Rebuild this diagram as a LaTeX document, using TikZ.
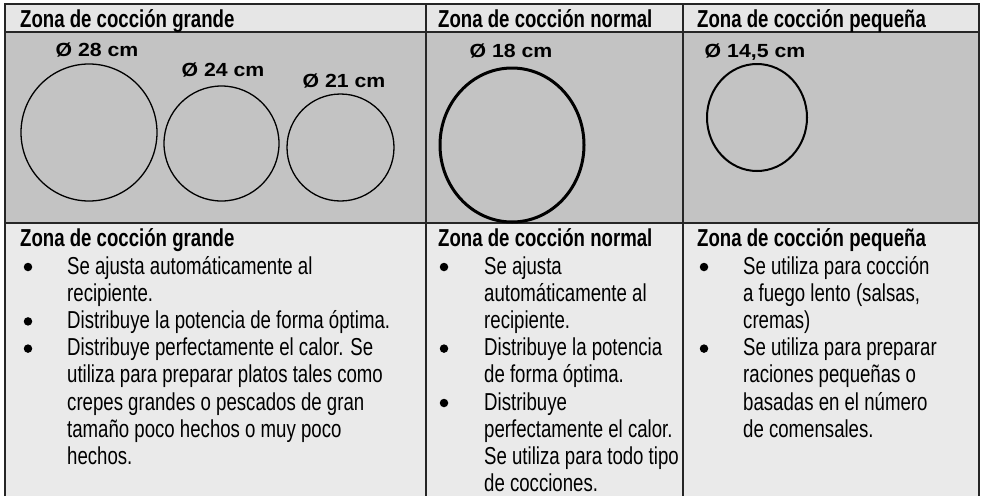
\documentclass[tikz,border=0pt]{standalone}
\usepackage{fontspec}
\setmainfont[FakeStretch=0.76]{Liberation Sans}
\newfontfamily\dimfont[FakeStretch=1.12]{Liberation Sans}
\usetikzlibrary{shapes.geometric}
\definecolor{headgray}{HTML}{E6E6E6}
\definecolor{plategray}{HTML}{C3C3C3}
\definecolor{bodygray}{HTML}{EAEAEA}
\tikzstyle{rule} = [line width=1.6pt, black!85]
\tikzstyle{zone} = [font=\bfseries\fontsize{24.5}{27.2}\selectfont, anchor=base west, inner sep=0pt]
\tikzstyle{bodyline} = [font=\fontsize{24.5}{27.2}\selectfont, anchor=base west, inner sep=0pt]
\tikzstyle{bulletmark} = [circle, fill=black, inner sep=0pt, minimum size=8.5pt]
\tikzstyle{plate} = [ellipse, draw, inner sep=0pt]
\tikzstyle{diam} = [font=\dimfont\bfseries\fontsize{19}{21}\selectfont, anchor=base, inner sep=0pt]

\begin{document}
\begin{tikzpicture}[x=1pt, y=-1pt]

        \useasboundingbox (0,0) rectangle (982,496);
        \fill[headgray] (5,4) rectangle (979,32);
        \fill[plategray] (5,32) rectangle (979,223);
        \fill[bodygray] (5,223) rectangle (979,496);

        \draw[rule] (5,496) -- (5,4) -- (979,4) -- (979,496);
        \draw[rule] (5,32) -- (979,32);
        \draw[rule] (5,223) -- (979,223);
        \draw[rule] (426,4) -- (426,496);
        \draw[rule] (683,4) -- (683,496);

        \foreach \x/\name/\txt in {20/grande/grande, 438/normal/normal, 697/peque/pequeña} {
            \node[zone] (top\name) at (\x,27) {Zona de cocción \txt};
            \node[zone] (sub\name) at (\x,246) {Zona de cocción \txt};
        }

        \node[plate, line width=1.3pt, minimum width=136pt, minimum height=137pt] (p28) at (89,132.5) {};
        \node[plate, line width=1.3pt, minimum width=115pt, minimum height=115pt] (p24) at (221.5,143.5) {};
        \node[plate, line width=1.3pt, minimum width=107pt, minimum height=107pt] (p21) at (340.5,147.5) {};
        \node[plate, line width=3pt, minimum width=144pt, minimum height=154pt] (p18) at (512,145) {};
        \node[plate, line width=2pt, minimum width=100pt, minimum height=107pt] (p14) at (757,117.5) {};

        \node[diam] (d28) at (97,56) {Ø 28 cm};
        \node[diam] (d24) at (223,76) {Ø 24 cm};
        \node[diam] (d21) at (344,87) {Ø 21 cm};
        \node[diam] (d18) at (511,57) {Ø 18 cm};
        \node[diam] (d14) at (755,57) {Ø 14,5 cm};

        \foreach \b/\txt [count=\i] in {1/Se ajusta automáticamente al, 0/recipiente., 1/Distribuye la potencia de forma óptima., 1/Distribuye perfectamente el calor. Se, 0/utiliza para preparar platos tales como, 0/crepes grandes o pescados de gran, 0/tamaño poco hechos o muy poco, 0/hechos.} {
            \node[bodyline] (g\i) at (67,{274+27.2*(\i-1)}) {\txt};
            \ifnum\b=1 \node[bulletmark] (gb\i) at (28,{267+27.2*(\i-1)}) {}; \fi
        }

        \foreach \b/\txt [count=\i] in {1/Se ajusta, 0/automáticamente al, 0/recipiente., 1/Distribuye la potencia, 0/de forma óptima., 1/Distribuye, 0/perfectamente el calor., 0/Se utiliza para todo tipo, 0/de cocciones.} {
            \node[bodyline] (n\i) at (484,{274+27.2*(\i-1)}) {\txt};
            \ifnum\b=1 \node[bulletmark] (nb\i) at (444,{267+27.2*(\i-1)}) {}; \fi
        }

        \foreach \b/\txt [count=\i] in {1/Se utiliza para cocción, 0/{a fuego lento (salsas,}, 0/cremas), 1/Se utiliza para preparar, 0/raciones pequeñas o, 0/basadas en el número, 0/de comensales.} {
            \node[bodyline] (s\i) at (743,{274+27.2*(\i-1)}) {\txt};
            \ifnum\b=1 \node[bulletmark] (sb\i) at (704,{267+27.2*(\i-1)}) {}; \fi
        }

    \end{tikzpicture}
\end{document}
